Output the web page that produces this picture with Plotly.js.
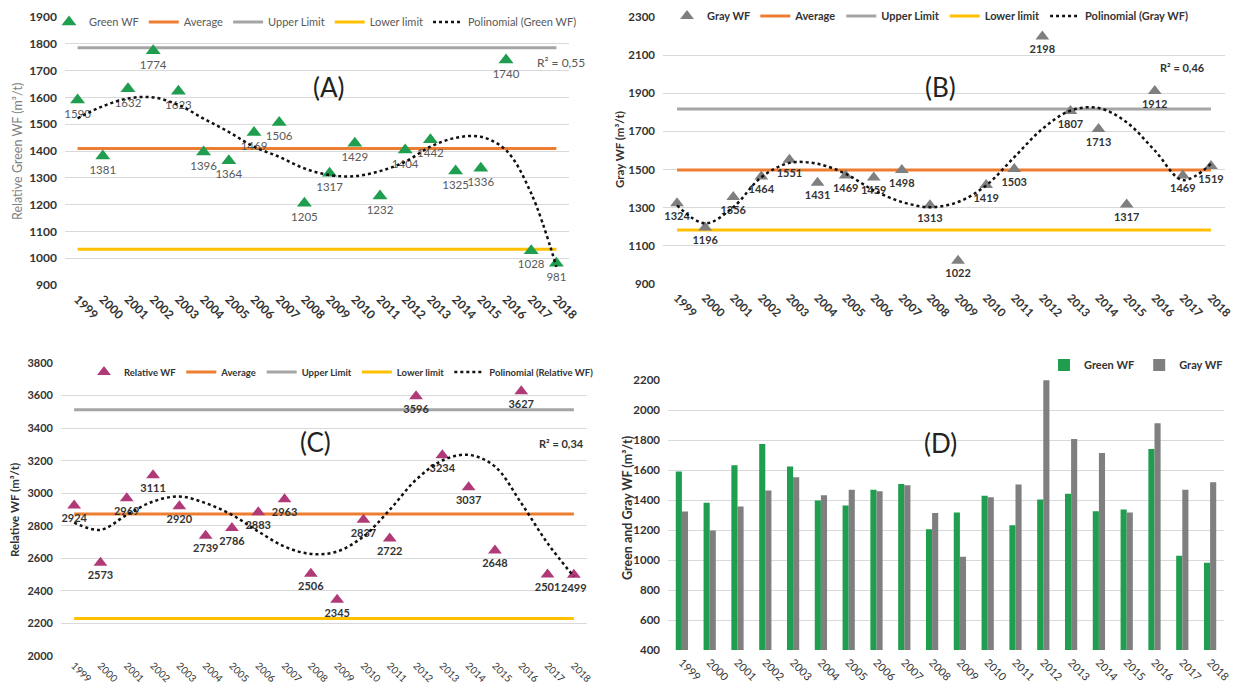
<!DOCTYPE html>
<html><head><meta charset="utf-8">
<script src="https://cdn.plot.ly/plotly-3.0.1.min.js"></script>
<style>html,body{margin:0;padding:0;background:#fff}</style>
</head><body><div id="chart" style="width:1235px;height:687px"></div>
<script>
const years = [1999,2000,2001,2002,2003,2004,2005,2006,2007,2008,2009,2010,2011,2012,2013,2014,2015,2016,2017,2018];
const greenWF = [1590,1381,1632,1774,1623,1396,1364,1469,1506,1205,1317,1429,1232,1404,1442,1325,1336,1740,1028,981];
const grayWF = [1324,1196,1356,1464,1551,1431,1469,1459,1498,1313,1022,1419,1503,2198,1807,1713,1317,1912,1469,1519];
const relativeWF = [2924,2573,2969,3111,2920,2739,2786,2883,2963,2506,2345,2837,2722,3596,3234,3037,2648,3627,2501,2499];
// polynomial trend curves at each year
const greenTrend = [1522,1567,1596,1600,1572,1521,1471,1416,1378,1335,1310,1306,1325,1360,1416,1449,1453,1403,1242,968];
const grayTrend = [1312,1218,1303,1460,1535,1530,1478,1391,1330,1303,1330,1417,1565,1713,1809,1823,1748,1600,1445,1530];
const relativeTrend = [2820,2775,2867,2949,2980,2939,2867,2765,2672,2627,2642,2734,2898,3083,3201,3236,3164,2939,2693,2488];
const greenLimits = {average:1409, upper:1785, lower:1033};
const grayLimits = {average:1498, upper:1818, lower:1183};
const relativeLimits = {average:2873, upper:3513, lower:2230};
const yearLabels = years.map(String);

const W = 1235, H = 687;
const fx = p => p / W;
const fy = p => 1 - p / H;
const FONT = "Lato, 'Open Sans', sans-serif";

function panel(vals, trend, lim, name, color, msize, xa, ya, lg, labelFont) {
  const flat = v => years.map(() => v);
  return [
    {x: years, y: flat(lim.average), type:'scatter', mode:'lines', name:'Average', line:{color:'#ED7D31', width:3}, xaxis:xa, yaxis:ya, legend:lg, legendrank:2, hoverinfo:'skip'},
    {x: years, y: flat(lim.upper), type:'scatter', mode:'lines', name: 'Upper Limit', line:{color:'#A5A5A5', width:3}, xaxis:xa, yaxis:ya, legend:lg, legendrank:3, hoverinfo:'skip'},
    {x: years, y: flat(lim.lower), type:'scatter', mode:'lines', name:'Lower limit', line:{color:'#FFC000', width:3}, xaxis:xa, yaxis:ya, legend:lg, legendrank:4, hoverinfo:'skip'},
    {x: years, y: vals, type:'scatter', mode:'markers+text', name:name, marker:{symbol:'triangle-up', size:msize, color:color},
     text: vals.map(String), textposition:'bottom center', textfont:labelFont, xaxis:xa, yaxis:ya, legend:lg, legendrank:1, cliponaxis:false},
    {x: years, y: trend, type:'scatter', mode:'lines', name:'Polinomial (' + name + ')', line:{color:'#111', width:2.5, dash:'dot', shape:'spline', smoothing:1}, xaxis:xa, yaxis:ya, legend:lg, legendrank:5, hoverinfo:'skip'}
  ];
}

const lightFont = {family: FONT, size: 11.5, color:'#595959'};
const darkFont = {family: FONT, size: 11, color:'#333333', weight: 'bold'};

const traces = [
  ...panel(greenWF, greenTrend, greenLimits, 'Green WF', '#1E9E4E', 13, 'x', 'y', 'legend', lightFont),
  ...panel(grayWF, grayTrend, grayLimits, 'Gray WF', '#7F7F7F', 12, 'x2', 'y2', 'legend2', darkFont),
  ...panel(relativeWF, relativeTrend, relativeLimits, 'Relative WF', '#B03A78', 12, 'x3', 'y3', 'legend3', darkFont),
  {x: years, y: greenWF, type:'bar', name:'Green WF', marker:{color:'#1E9E4E'}, xaxis:'x4', yaxis:'y4', legend:'legend4'},
  {x: years, y: grayWF, type:'bar', name:'Gray WF', marker:{color:'#7F7F7F'}, xaxis:'x4', yaxis:'y4', legend:'legend4'}
];

function xAxis(x0, x1, anchor, size, bold, standoff) {
  return {domain:[fx(x0), fx(x1)], anchor:anchor, range:[1998.5, 2018.5], tickmode:'array', tickvals:years, ticktext:yearLabels,
    tickangle:45, showgrid:false, zeroline:false, showline:false, ticks:'', ticklabelstandoff:standoff,
    tickfont:{family:FONT, size:size, color:'#333', weight: bold ? 'bold' : 'normal'}, fixedrange:true};
}
function yAxis(top, bottom, anchor, r, dt, size) {
  return {domain:[fy(bottom), fy(top)], anchor:anchor, range:r, tick0:r[0], dtick:dt, gridcolor:'#D9D9D9', gridwidth:1,
    zeroline:false, showline:false, ticks:'', ticklabelstandoff:7,
    tickfont:{family:FONT, size:size, color:'#333', weight:'bold'}, fixedrange:true};
}

function legendAt(x, y, font, extra) {
  return Object.assign({orientation:'h', x:fx(x), y:fy(y), xanchor:'left', yanchor:'middle', bgcolor:'rgba(0,0,0,0)',
    font:font, itemwidth:30, tracegroupgap:0}, extra || {});
}

function ann(text, x, y, size, color, weight, angle) {
  return {text:text, x:fx(x), y:fy(y), xref:'paper', yref:'paper', showarrow:false, xanchor:'center', yanchor:'middle',
    font:{family:FONT, size:size, color:color, weight:weight||'normal'}, textangle:angle||0};
}

const layout = {
  width: W, height: H, margin:{l:0, r:0, t:0, b:0}, paper_bgcolor:'#fff', plot_bgcolor:'rgba(0,0,0,0)',
  showlegend:true, barmode:'group', bargap:0.56, bargroupgap:0,
  xaxis: xAxis(65, 569, 'y', 12, true, 4),
  yaxis: yAxis(17, 285, 'x', [900, 1900], 100, 12),
  xaxis2: xAxis(663, 1225, 'y2', 11.5, true, 4),
  yaxis2: yAxis(17, 284, 'x2', [900, 2300], 200, 11.5),
  xaxis3: xAxis(61, 587, 'y3', 10, false, 1),
  yaxis3: yAxis(363, 656, 'x3', [2000, 3800], 200, 11),
  xaxis4: xAxis(668, 1224, 'y4', 11, false, 3),
  yaxis4: yAxis(380, 650, 'x4', [400, 2200], 200, 11.5),
  legend: legendAt(49, 22, {family:FONT, size:11, color:'#595959'}),
  legend2: legendAt(667, 16, {family:FONT, size:11, color:'#333', weight:'bold'}),
  legend3: legendAt(84, 372, {family:FONT, size:9.5, color:'#333', weight:'bold'}),
  legend4: legendAt(1044, 365, {family:FONT, size:11, color:'#333', weight:'bold'}),
  annotations: [
    ann('(A)', 329, 87, 26, '#222'),
    ann('(B)', 940, 87, 26, '#222'),
    ann('(C)', 315, 442, 26, '#222'),
    ann('(D)', 940, 443, 26, '#222'),
    ann('R² = 0,55', 561, 62, 12, '#595959'),
    ann('R² = 0,46', 1182, 67, 11, '#333', 'bold'),
    ann('R² = 0,34', 561, 443, 11, '#333', 'bold'),
    ann('Relative Green WF (m³/t)', 17, 152, 12.5, '#7F7F7F', 'normal', -90),
    ann('Gray WF (m³/t)', 619, 150, 11.5, '#333', 'bold', -90),
    ann('Relative WF (m³/t)', 15, 510, 11.5, '#333', 'bold', -90),
    ann('Green and Gray WF (m³/t)', 627, 508, 12.5, '#333', 'bold', -90)
  ]
};

Plotly.newPlot('chart', traces, layout, {displayModeBar:false, staticPlot:true});
</script></body></html>
